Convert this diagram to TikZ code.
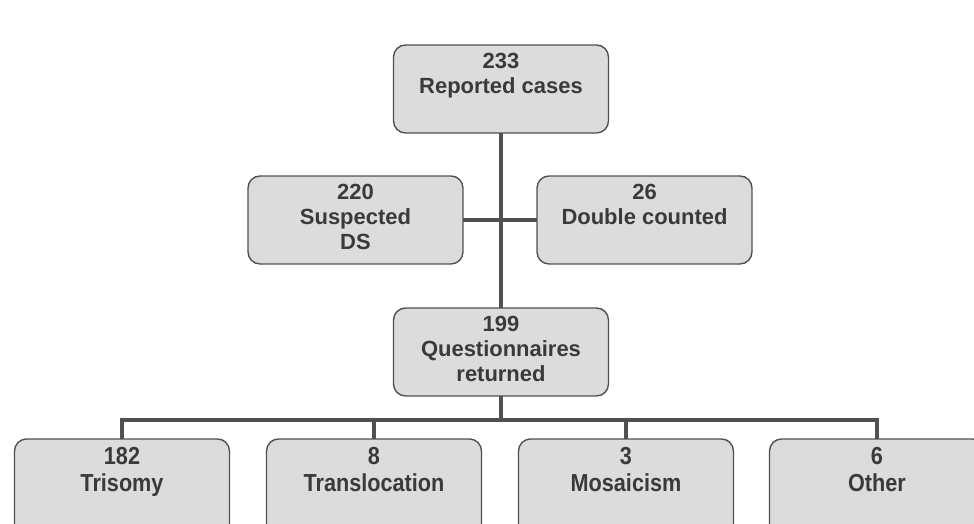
\documentclass[tikz,border=0pt]{standalone}
\usepackage{fontspec}
\setmainfont{Liberation Sans}
\newfontfamily\lowfont[FakeStretch=0.88]{Liberation Sans}
\usepackage{tikz}
\definecolor{boxfill}{HTML}{DCDCDC}
\definecolor{boxline}{HTML}{505050}
\definecolor{boxtext}{HTML}{3A3A3A}
\tikzstyle{link}=[draw=boxline, line width=2.6pt, line join=miter]
\tikzset{casebox/.style={draw=boxline, fill=boxfill, line width=0.8pt,
                    rounded corners=0.24cm, inner sep=0pt, outer sep=0pt,
                    anchor=north, text=boxtext,
                    font=\bfseries\fontsize{12.5}{14.2}\selectfont,
                    execute at begin node={\begin{minipage}[c][#1][t]{4.3cm}\centering\vspace*{0.17cm}},
                    execute at end node={\end{minipage}}},
         casebox/.default=1.76cm,
         lowbox/.style={casebox=2.4cm, font=\lowfont\bfseries\fontsize{14}{15.4}\selectfont}}

\begin{document}
\begin{tikzpicture}[x=0.02cm, y=-0.02cm]
        \useasboundingbox (0,0) rectangle (974,524);
        \clip (0,0) rectangle (974,524);

                \node[casebox] (reported) at (501,45) {233\\Reported cases};
                \node[casebox] (suspected) at (355.5,176) {220\\Suspected\\DS};
                \node[casebox] (double) at (644.5,176) {26\\Double counted};
                \node[casebox] (returned) at (501,308) {199\\Questionnaires\\returned};

                \node[lowbox] (trisomy) at (122,439) {182\\Trisomy};
                \node[lowbox] (transloc) at (374,439) {8\\Translocation};
                \node[lowbox] (mosaic) at (626,439) {3\\Mosaicism};
                \node[lowbox] (other) at (877,439) {6\\Other};

                \coordinate (bar) at (501,420);

                \draw[link] (reported.south) -- (returned.north);
                \draw[link] (suspected.east) -- (double.west);
                \draw[link] (returned.south) -- (bar);
                \draw[link] (trisomy.north) |- (bar) -| (other.north);
                \foreach \b in {transloc,mosaic}{
                    \draw[link] (\b.north) -- (\b.north |- bar);
                }
    \end{tikzpicture}
\end{document}
